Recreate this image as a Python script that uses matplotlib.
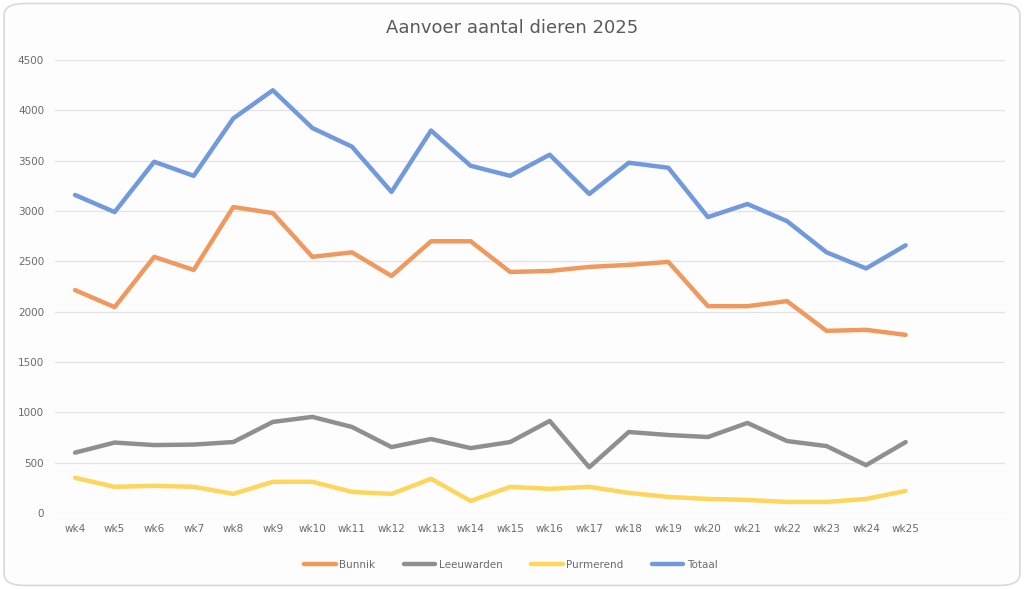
import matplotlib
matplotlib.use("Agg")
import matplotlib.pyplot as plt
from matplotlib.patches import FancyBboxPatch

weeks = ["wk4", "wk5", "wk6", "wk7", "wk8", "wk9", "wk10", "wk11", "wk12", "wk13", "wk14",
         "wk15", "wk16", "wk17", "wk18", "wk19", "wk20", "wk21", "wk22", "wk23", "wk24", "wk25"]
bunnik = [2215, 2045, 2545, 2415, 3040, 2980, 2545, 2590, 2355, 2700, 2700,
          2395, 2405, 2445, 2465, 2495, 2055, 2055, 2105, 1810, 1820, 1770]
leeuwarden = [600, 700, 675, 680, 705, 905, 955, 855, 655, 735, 645,
              705, 915, 455, 805, 775, 755, 895, 715, 665, 475, 705]
purmerend = [350, 260, 270, 260, 190, 310, 310, 210, 190, 340, 120,
             260, 240, 260, 200, 160, 140, 130, 110, 110, 140, 220]
totaal = [3160, 2990, 3490, 3350, 3920, 4200, 3825, 3640, 3190, 3800, 3450,
          3350, 3560, 3170, 3480, 3430, 2940, 3070, 2900, 2590, 2430, 2660]

series = [("Bunnik", bunnik, "#f0995f"), ("Leeuwarden", leeuwarden, "#8f8f8f"),
          ("Purmerend", purmerend, "#ffd65c"), ("Totaal", totaal, "#7299dc")]

fig = plt.figure(figsize=(10.24, 5.89), dpi=100)
fig.patch.set_facecolor("white")
frame = FancyBboxPatch((0.004, 0.006), 0.992, 0.988, boxstyle="round,pad=0,rounding_size=0.02",
                       transform=fig.transFigure, fc="#fdfdfd", ec="#d9d9d9", lw=1.2, zorder=-5)
fig.patches.append(frame)
ax = fig.add_axes([0.054, 0.129, 0.927, 0.769])
ax.set_facecolor("none")
ax.set_zorder(2)

x = list(range(len(weeks)))
for name, vals, col in series:
    ax.plot(x, vals, color=col, lw=3.2, label=name, solid_capstyle="round", solid_joinstyle="round")

ax.set_ylim(0, 4500)
ax.set_yticks(range(0, 4501, 500))
ax.set_xlim(-0.5, 23.5)
ax.set_xticks(x)
ax.set_xticklabels(weeks)
ax.grid(axis="y", color="#e3e3e3", lw=0.9)
ax.set_axisbelow(True)
for s in ax.spines.values():
    s.set_visible(False)
ax.tick_params(axis="both", length=0, labelsize=7.5, colors="#6b6b6b", pad=8)

fig.text(0.5, 0.952, "Aanvoer aantal dieren 2025", ha="center", va="center", fontsize=13, color="#5a5a5a")
ax.legend(loc="center", bbox_to_anchor=(0.48, -0.115), ncol=4, frameon=False, fontsize=7.5,
          labelcolor="#6b6b6b", handlelength=3.0, handletextpad=0.3, columnspacing=2.8)

plt.savefig("out.png", dpi=100)
